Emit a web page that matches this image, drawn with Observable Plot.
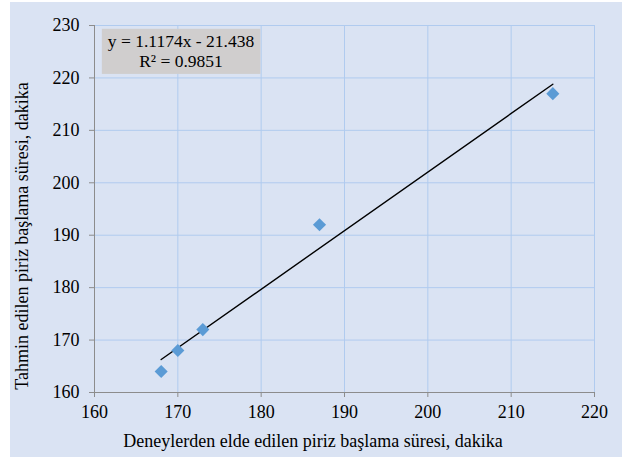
<!DOCTYPE html>
<html>
<head>
<meta charset="utf-8">
<script src="https://cdn.jsdelivr.net/npm/d3@7"></script>
<script src="https://cdn.jsdelivr.net/npm/@observablehq/plot@0.6"></script>
<style>
  html, body { margin: 0; padding: 0; background: #ffffff; }
  #chart { position: absolute; left: 10px; top: 2px; width: 612px; height: 455px; background: #dae3f3; }
  #chart svg { background: transparent; display: block; font-family: 'Liberation Serif', 'Times New Roman', serif; }
  #chart svg text { font-family: 'Liberation Serif', 'Times New Roman', serif; }
</style>
</head>
<body>
<div id="chart"></div>
<script>
// Data
const experimental = [168, 170, 173, 187, 215];   // x: Deneylerden elde edilen
const predicted    = [164, 168, 172, 192, 217];   // y: Tahmin edilen
const xTicks = [160, 170, 180, 190, 200, 210, 220];
const yTicks = [160, 170, 180, 190, 200, 210, 220, 230];
const equationLines = ["y = 1.1174x - 21.438", "R² = 0.9851"];
const xTitle = "Deneylerden elde edilen piriz başlama süresi, dakika";
const yTitle = "Tahmin edilen piriz başlama süresi, dakika";

const points = experimental.map((x, i) => ({x, y: predicted[i]}));

const W = 612, H = 455;
const FONT = "'Liberation Serif', 'Times New Roman', serif";
const gridColor = "#b0cbef";
const axisColor = "#8c8c8c";

const plot = Plot.plot({
  width: W,
  height: H,
  marginLeft: 84,
  marginRight: 28,
  marginTop: 23,
  marginBottom: 65,
  style: {fontFamily: FONT, fontSize: "18px", color: "#000", background: "transparent"},
  x: {domain: [160, 220]},
  y: {domain: [160, 230]},
  marks: [
    Plot.gridX(xTicks, {stroke: gridColor, strokeOpacity: 1, strokeWidth: 1}),
    Plot.gridY(yTicks, {stroke: gridColor, strokeOpacity: 1, strokeWidth: 1}),
    Plot.ruleX([160], {stroke: axisColor, strokeWidth: 1}),
    Plot.ruleY([160], {stroke: axisColor, strokeWidth: 1}),
    Plot.axisX(xTicks, {tickSize: 5, tickPadding: 8, stroke: axisColor, label: null, fill: "#000", fontSize: 18, fontFamily: FONT}),
    Plot.axisY(yTicks, {tickSize: 5, tickPadding: 10, stroke: axisColor, label: null, fill: "#000", fontSize: 18, fontFamily: FONT}),
    Plot.linearRegressionY(points, {x: "x", y: "y", ci: 0, stroke: "#000", strokeWidth: 1.4}),
    Plot.dot(points, {x: "x", y: "y", symbol: "diamond2", r: 5.9, fill: "#5b9bd5", stroke: "none"}),
    Plot.text([equationLines.join("\n")], {
      frameAnchor: "top-left", dx: 86.5, dy: 7, lineAnchor: "top", textAnchor: "middle",
      fontSize: 17.5, fontFamily: FONT, fill: "#000", lineHeight: 1.15, className: "eqlabel"
    })
  ]
});

document.getElementById("chart").appendChild(plot);

const svg = d3.select(plot);
// gray box behind the equation label
const eqText = plot.querySelector(".eqlabel text");
if (eqText) {
  const sr = plot.getBoundingClientRect();
  const tr = eqText.getBoundingClientRect();
  svg.insert("rect", ".eqlabel")
    .attr("x", tr.left - sr.left - 6).attr("y", tr.top - sr.top - 2)
    .attr("width", tr.width + 12).attr("height", tr.height + 5)
    .attr("fill", "#d0cece");
}

// axis titles (centered on the chart area, like the original)
svg.append("text")
  .attr("x", W / 2 - 3).attr("y", 445)
  .attr("text-anchor", "middle")
  .attr("font-family", FONT).attr("font-size", 18).attr("fill", "#000")
  .text(xTitle);
svg.append("text")
  .attr("transform", `translate(18, 234) rotate(-90)`)
  .attr("text-anchor", "middle")
  .attr("font-family", FONT).attr("font-size", 18).attr("fill", "#000")
  .text(yTitle);
</script>
</body>
</html>
